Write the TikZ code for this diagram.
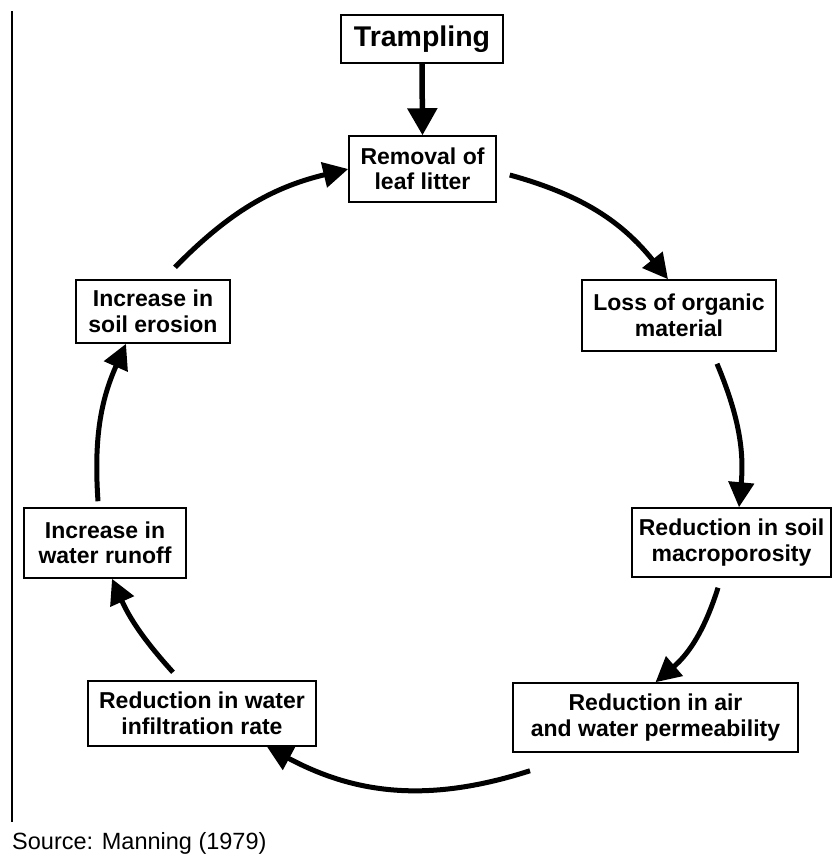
\documentclass[tikz,border=0pt]{standalone}
\usepackage{fontspec}
\setmainfont{Liberation Sans}
\usetikzlibrary{arrows.meta,calc}

\begin{document}
\begin{tikzpicture}[x=1pt,y=1pt,
  stage/.style={draw=black, line width=1.5pt, inner sep=0pt, align=center,
    text=black, font=\bfseries\fontsize{23}{25.5}\selectfont},
  flow/.style={line width=5pt, -{Triangle[width=25pt,length=25pt]}},
  push/.style={line width=5.5pt, -{Triangle[width=29pt,length=27pt]}},
  rule/.style={line width=2pt}
]
\useasboundingbox (0,0) rectangle (834,-854);

% margin rule on the left
\coordinate (ruletop) at (11.5,-11);
\coordinate (rulebot) at (11.5,-822);
\draw[rule] (ruletop) -- (rulebot);

% stages of the cycle
\node[stage, minimum width=162pt, minimum height=48pt,
      font=\bfseries\fontsize{28.5}{30}\selectfont] (tramp) at (422,-39) {Trampling};
\node[stage, minimum width=147pt, minimum height=66pt] (rem) at (422.5,-169) {Removal of\\leaf litter};
\node[stage, minimum width=194pt, minimum height=71pt] (loss) at (679,-315.5) {Loss of organic\\material};
\node[stage, minimum width=199pt, minimum height=69pt] (soil) at (731.5,-542.5) {Reduction in soil\\macroporosity};
\node[stage, minimum width=285pt, minimum height=69pt] (air) at (655.5,-717.5) {Reduction in air\\and water permeability};
\node[stage, minimum width=228pt, minimum height=65pt] (water) at (202,-713.5) {Reduction in water\\infiltration rate};
\node[stage, minimum width=162pt, minimum height=70pt] (runoff) at (105,-543) {Increase in\\water runoff};
\node[stage, minimum width=154pt, minimum height=63pt] (erosion) at (153,-311.5) {Increase in\\soil erosion};

% source line
\node[anchor=base west, inner sep=0pt, font=\fontsize{23.5}{26}\selectfont] (src) at (12,-849) {Source: Manning (1979)};

% trigger
\draw[push] (tramp.south) -- (rem.north);

% the cycle, clockwise
\draw[flow] ($(rem.east)+(13,-6)$) to[bend left=18] ($(loss.north)+(-11,0)$);
\draw[flow] ($(loss.south)+(38,-12)$) to[bend left=14] ($(soil.north)+(7.5,0)$);
\draw[flow] ($(soil.south)+(-13.5,-10)$) to[bend left=16] (air.north);
\draw[flow] ($(air.south)+(-125.5,-18)$) to[bend left=23] ($(water.south)+(65,0)$);
\draw[flow] ($(water.north)+(-29,8)$) to[bend left=9] ($(runoff.south)+(7,0)$);
\draw[flow] ($(runoff.north)+(-7,6)$) to[bend left=14] ($(erosion.south)+(-27,0)$);
\draw[flow] ($(erosion.north)+(22,12)$) to[bend left=16] (rem.west);
\end{tikzpicture}
\end{document}
